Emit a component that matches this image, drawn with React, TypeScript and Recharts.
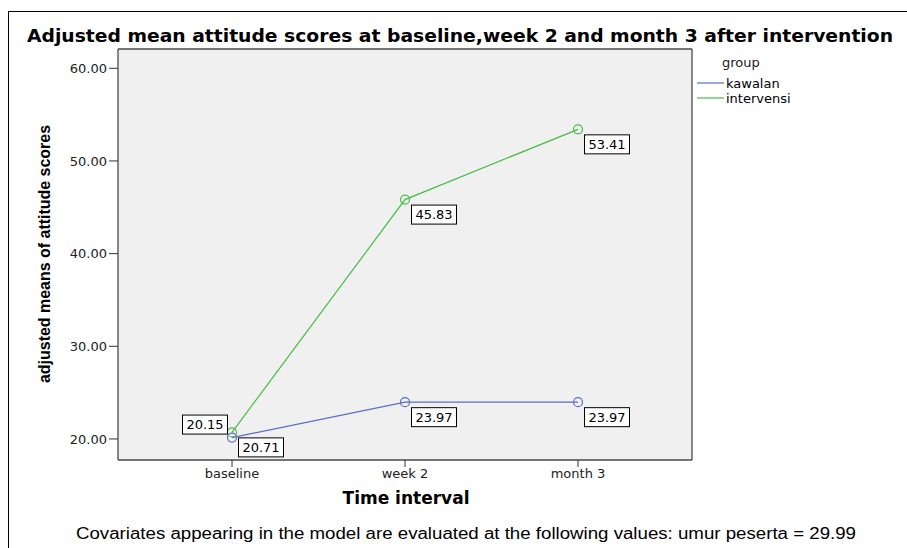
import React from 'react';
import { LineChart, Line, XAxis, YAxis, CartesianGrid, LabelList } from 'recharts';

const categories = ['baseline', 'week 2', 'month 3'];
const kawalan = [20.15, 23.97, 23.97];
const intervensi = [20.71, 45.83, 53.41];
const yTicks = [20, 30, 40, 50, 60];
const yDomain: [number, number] = [17.73, 62.08];
const seriesNames = ['kawalan', 'intervensi'];
const seriesColors = ['#5b6cc6', '#45bd45'];

const data = categories.map((c, i) => ({ time: c, kawalan: kawalan[i], intervensi: intervensi[i] }));

const TICK_FONT = 'DejaVu Sans, Verdana, sans-serif';
const FRAME = { stroke: '#4a4a4a', strokeWidth: 1.3 };

function makeLabel(series: string) {
  return (props: any) => {
    const { x, y, value, index } = props;
    if (x == null || y == null) return null;
    const txt = Number(value).toFixed(2);
    const w = 45;
    const h = 19;
    let bx = x + 6;
    let by = y + 5;
    if (series === 'kawalan' && index === 0) {
      bx = x - 50;
      by = y - 23;
    }
    return (
      <g>
        <rect x={bx + 0.5} y={by + 0.5} width={w} height={h} fill="#ffffff" stroke="#000" strokeWidth={1} />
        <text x={bx + 0.5 + w / 2} y={by + h / 2 + 5} textAnchor="middle" fontFamily={TICK_FONT} fontSize={13} fill="#000">
          {txt}
        </text>
      </g>
    );
  };
}

export default function App() {
  return (
    <div style={{ position: 'absolute', left: 0, top: 0, width: 907, height: 548, background: '#fff' }}>
      <LineChart width={907} height={548} data={data} margin={{ top: 48, right: 214, bottom: 58, left: 58 }}>
        <CartesianGrid fill="#f0f0f0" fillOpacity={1} horizontal={false} vertical={false} stroke="none" />
        <XAxis
          dataKey="time"
          padding={{ left: 114, right: 114 }}
          height={30}
          axisLine={FRAME}
          tickLine={{ stroke: '#333' }}
          tickSize={7}
          tick={{ fontFamily: TICK_FONT, fontSize: 13, fill: '#222' }}
          interval={0}
          label={(props: any) => (
            <text x={406} y={504} textAnchor="middle" fontFamily="DejaVu Sans, sans-serif" fontWeight="bold" fontSize={17} fill="#000">
              Time interval
            </text>
          )}
        />
        <XAxis
          xAxisId="top"
          dataKey="time"
          orientation="top"
          height={1}
          padding={{ left: 114, right: 114 }}
          axisLine={FRAME}
          tick={false}
          tickLine={false}
        />
        <YAxis
          type="number"
          domain={yDomain}
          ticks={yTicks}
          width={60}
          axisLine={FRAME}
          tickLine={{ stroke: '#333' }}
          tickSize={9}
          tickFormatter={(v: number) => v.toFixed(2)}
          tick={{ fontFamily: TICK_FONT, fontSize: 13, fill: '#222' }}
          label={(props: any) => (
            <text
              x={50}
              y={254}
              transform="rotate(-90 50 254)"
              textAnchor="middle"
              fontFamily="Liberation Sans Narrow, Arial Narrow, Liberation Sans, Arial, sans-serif"
              fontWeight="bold"
              fontSize={17}
              textLength={258}
              lengthAdjust="spacingAndGlyphs"
              fill="#000"
            >
              adjusted means of attitude scores
            </text>
          )}
        />
        <YAxis
          yAxisId="right"
          orientation="right"
          type="number"
          domain={yDomain}
          width={1}
          axisLine={FRAME}
          tick={false}
          tickLine={false}
        />
        <Line
          type="linear"
          dataKey="kawalan"
          name="kawalan"
          stroke={seriesColors[0]}
          strokeWidth={1.2}
          dot={{ r: 4.5, fill: 'none', stroke: seriesColors[0], strokeWidth: 1.2 }}
          activeDot={false}
          isAnimationActive={false}
        >
          <LabelList dataKey="kawalan" content={makeLabel('kawalan')} />
        </Line>
        <Line
          type="linear"
          dataKey="intervensi"
          name="intervensi"
          stroke={seriesColors[1]}
          strokeWidth={1.2}
          dot={{ r: 4.5, fill: 'none', stroke: seriesColors[1], strokeWidth: 1.2 }}
          activeDot={false}
          isAnimationActive={false}
        >
          <LabelList dataKey="intervensi" content={makeLabel('intervensi')} />
        </Line>
      </LineChart>
      <svg width={907} height={548} style={{ position: 'absolute', left: 0, top: 0, pointerEvents: 'none' }}>
        <rect x={8.5} y={11.5} width={960} height={600} fill="none" stroke="#000" strokeWidth={1} />
        <text
          x={27}
          y={42}
          fontFamily="DejaVu Sans, sans-serif"
          fontWeight="bold"
          fontSize={17}
          textLength={866}
          lengthAdjust="spacingAndGlyphs"
          fill="#000"
        >
          Adjusted mean attitude scores at baseline,week 2 and month 3 after intervention
        </text>
        <text x={722} y={67} fontFamily={TICK_FONT} fontSize={13} fill="#222">group</text>
        {seriesNames.map((n, i) => (
          <g key={n}>
            <line x1={697} x2={724} y1={83 + i * 15} y2={83 + i * 15} stroke={seriesColors[i]} strokeWidth={1.2} />
            <text x={726} y={87.5 + i * 15} fontFamily={TICK_FONT} fontSize={13} fill="#000">{n}</text>
          </g>
        ))}
        <text
          x={76}
          y={539}
          fontFamily="Liberation Sans, Arial, sans-serif"
          fontSize={16}
          textLength={780}
          lengthAdjust="spacingAndGlyphs"
          fill="#000"
        >
          Covariates appearing in the model are evaluated at the following values: umur peserta = 29.99
        </text>
      </svg>
    </div>
  );
}
